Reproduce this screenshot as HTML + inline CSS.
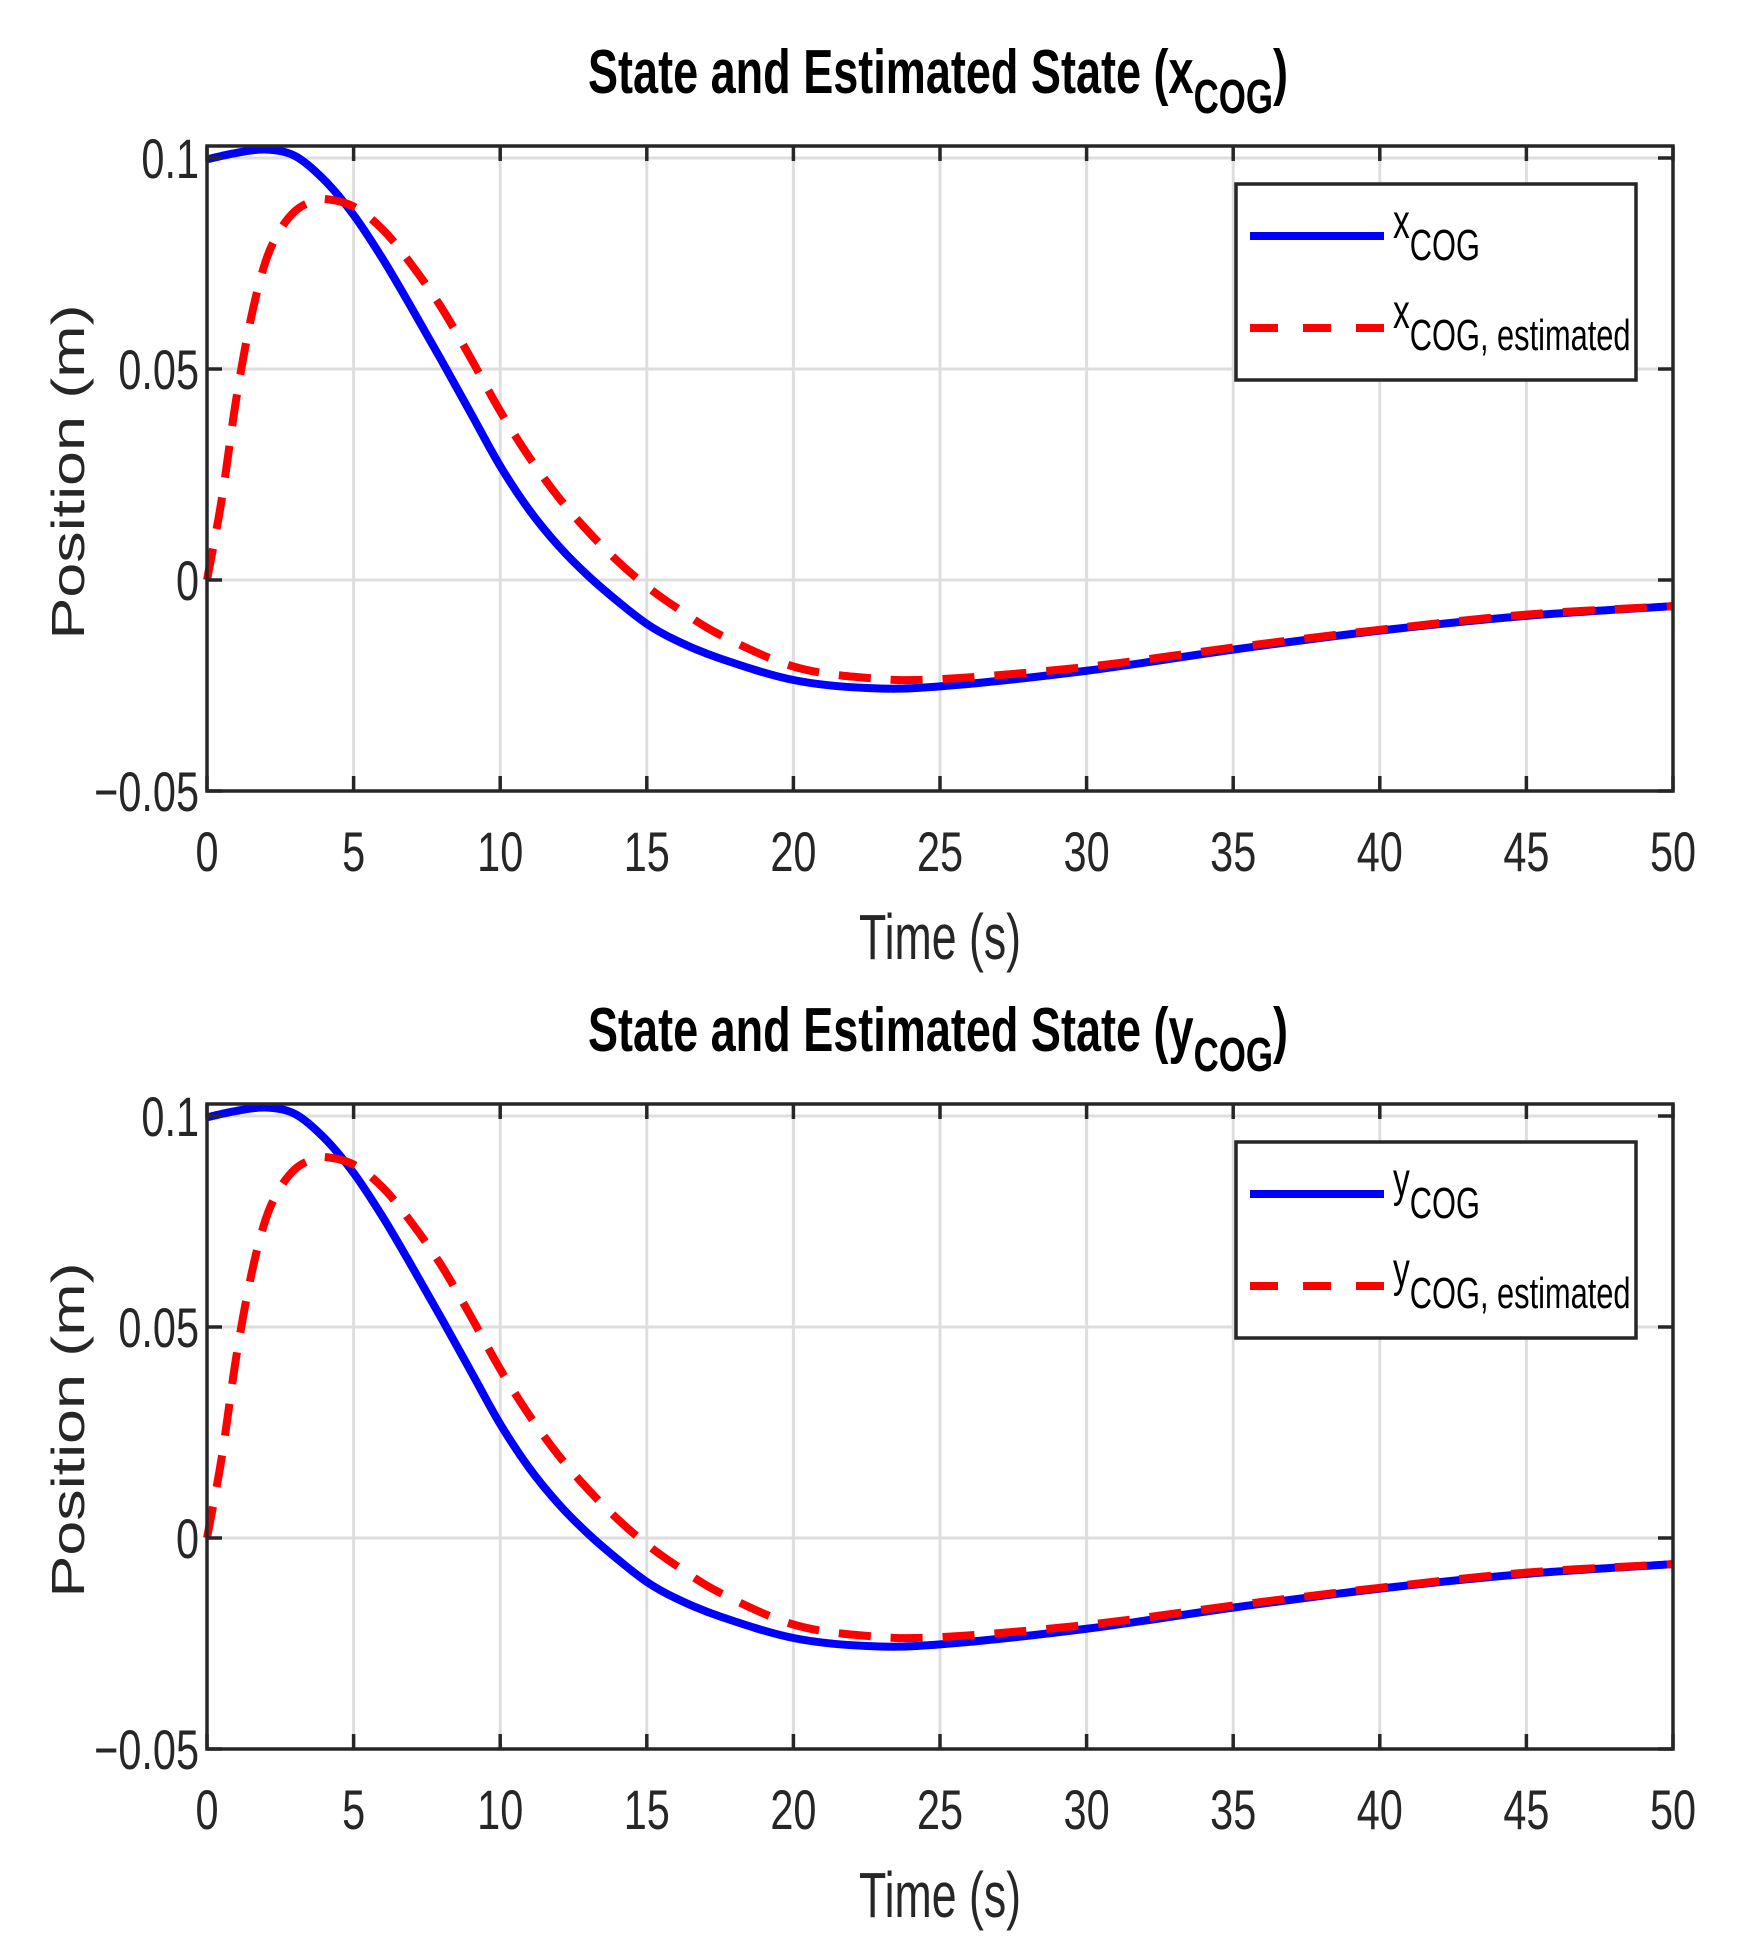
<!DOCTYPE html>
<html><head><meta charset="utf-8"><style>
html,body{margin:0;padding:0;background:#fff;}
svg{display:block;font-family:"Liberation Sans",Arial,sans-serif;}
</style></head><body>
<svg id="fig" width="1742" height="1954" viewBox="0 0 1742 1954" xmlns="http://www.w3.org/2000/svg"></svg>
<script>
const timeX = [0,1,2,3,4,5,6,7,8,9,10,11,12,13,14,15,16,17.5,20,22.5,25,30,35,40,45,50];
const stateX = [0.0997,0.1012,0.1020,0.1005,0.0948,0.0865,0.0760,0.0642,0.0520,0.0395,0.0270,0.0165,0.0080,0.0010,-0.0050,-0.0104,-0.0143,-0.0186,-0.0237,-0.0256,-0.0252,-0.0215,-0.0165,-0.012,-0.0085,-0.0062];
const timeE = [0,0.5,1,1.5,2,2.5,3,3.5,4,5,6,7,8,9,10,11,12,13,14,15,16,17.5,20,22.5,25,30,35,40,45,50];
const estX = [0,0.019,0.043,0.062,0.0755,0.0830,0.0874,0.0895,0.0903,0.0885,0.0830,0.0745,0.0645,0.0525,0.0400,0.0290,0.0195,0.0115,0.0045,-0.0015,-0.0065,-0.0130,-0.0205,-0.0232,-0.0235,-0.0206,-0.016,-0.0118,-0.0082,-0.0062];
const stateY = stateX.slice();
const estY = estX.slice();
const xTicks = [0,5,10,15,20,25,30,35,40,45,50];
const yTicks = [-0.05,0,0.05,0.1];
const yTickLabels = ["\u22120.05","0","0.05","0.1"];

const NS="http://www.w3.org/2000/svg";
const svg=document.getElementById('fig');
function el(tag,attrs,parent){const e=document.createElementNS(NS,tag);for(const k in attrs)e.setAttribute(k,attrs[k]);(parent||svg).appendChild(e);return e;}

function smoothPath(pts){
  let d=`M${pts[0][0]},${pts[0][1]}`;
  for(let i=0;i<pts.length-1;i++){
    const p0=pts[Math.max(0,i-1)],p1=pts[i],p2=pts[i+1],p3=pts[Math.min(pts.length-1,i+2)];
    const c1x=p1[0]+(p2[0]-p0[0])/6,c1y=p1[1]+(p2[1]-p0[1])/6;
    const c2x=p2[0]-(p3[0]-p1[0])/6,c2y=p2[1]-(p3[1]-p1[1])/6;
    d+=` C${c1x},${c1y} ${c2x},${c2y} ${p2[0]},${p2[1]}`;
  }
  return d;
}

function drawPanel(idx,top,varName,sx,sy,ex,ey){
  const L=207,R=1673,T=top,B=top+645;
  const y0=top+434, yPer=(B-y0)/0.05;
  const X=v=>L+(v-0)/(50)*(R-L);
  const Y=v=>y0-v*yPer;
  const g=el('g',{});
  
  
  xTicks.forEach(t=>{const l=el('line',{x1:X(t),x2:X(t),y1:T,y2:B,stroke:'#dedede','stroke-width':3},g);
    });
  yTicks.forEach(t=>{const l=el('line',{x1:L,x2:R,y1:Y(t),y2:Y(t),stroke:'#dedede','stroke-width':3},g);
    });
  const sPts=sx.map((t,i)=>[X(t),Y(sy[i])]);
  const ePts=ex.map((t,i)=>[X(t),Y(ey[i])]);
  const s=el('path',{d:smoothPath(sPts),fill:'none',stroke:'#0000ff','stroke-width':8,'stroke-linejoin':'round'},g);
  
  const e=el('path',{d:smoothPath(ePts),fill:'none',stroke:'#ff0000','stroke-width':8,'stroke-dasharray':'32 20'},g);
  
  const box=el('rect',{x:L,y:T,width:R-L,height:B-T,fill:'none',stroke:'#262626','stroke-width':3.5},g);
  
  xTicks.forEach(t=>{
    el('line',{x1:X(t),x2:X(t),y1:B,y2:B-15,stroke:'#262626','stroke-width':3.5},g);
    el('line',{x1:X(t),x2:X(t),y1:T,y2:T+15,stroke:'#262626','stroke-width':3.5},g);
    const tx=el('text',{x:X(t),y:B+80,'font-size':56,'text-anchor':'middle',fill:'#262626',transform:`translate(${X(t)},0) scale(0.74,1) translate(${-X(t)},0)`},g);
    tx.textContent=t;
  });
  yTicks.forEach((t,i)=>{
    el('line',{x1:L,x2:L+15,y1:Y(t),y2:Y(t),stroke:'#262626','stroke-width':3.5},g);
    el('line',{x1:R,x2:R-15,y1:Y(t),y2:Y(t),stroke:'#262626','stroke-width':3.5},g);
    const tx=el('text',{x:199,y:Y(t)+20,'font-size':56,'text-anchor':'end',fill:'#262626',transform:`translate(199,0) scale(0.74,1) translate(-199,0)`},g);
    tx.textContent=yTickLabels[i];
  });
  const xl=el('text',{x:940,y:top+813,'font-size':64,'text-anchor':'middle',fill:'#262626',textLength:162,lengthAdjust:'spacingAndGlyphs'},g);
  xl.textContent='Time (s)';
  const yl=el('text',{x:0,y:0,'font-size':46,'text-anchor':'middle',fill:'#262626',textLength:335,lengthAdjust:'spacingAndGlyphs',transform:`translate(84,${top+326}) rotate(-90)`},g);
  yl.textContent='Position (m)';
  const ti=el('text',{x:938,y:top-53,'font-size':62,'font-weight':'bold','text-anchor':'middle',fill:'#000',textLength:700,lengthAdjust:'spacingAndGlyphs'},g);
  
  const t1=el('tspan',{},ti);t1.textContent='State and Estimated State ('+varName;
  const t2=el('tspan',{dy:20,'font-size':48},ti);t2.textContent='COG';
  const t3=el('tspan',{dy:-20},ti);t3.textContent=')';
  const lg=el('g',{},g);
  el('rect',{x:1236,y:top+38,width:400,height:196,fill:'#fff',stroke:'#262626','stroke-width':3.5},lg);
  const le1=el('g',{},lg);
  el('line',{x1:1250,x2:1384,y1:top+90,y2:top+90,stroke:'#0000ff','stroke-width':8},le1);
  const a=el('text',{x:1393,y:top+92,'font-size':48,fill:'#000',transform:`translate(1393,0) scale(0.7,1) translate(-1393,0)`},le1);
  const a1=el('tspan',{},a);a1.textContent=varName;
  const a2=el('tspan',{dy:22,'font-size':44},a);a2.textContent='COG';
  const le2=el('g',{},lg);
  el('line',{x1:1250,x2:1384,y1:top+182,y2:top+182,stroke:'#ff0000','stroke-width':8,'stroke-dasharray':'28 25'},le2);
  const b=el('text',{x:1393,y:top+182,'font-size':48,fill:'#000',transform:`translate(1393,0) scale(0.7,1) translate(-1393,0)`},le2);
  const b1=el('tspan',{},b);b1.textContent=varName;
  const b2=el('tspan',{dy:22,'font-size':44},b);b2.textContent='COG, estimated';
}
drawPanel(0,146,'x',timeX,stateX,timeE,estX);
drawPanel(1,1104,'y',timeX,stateY,timeE,estY);
</script>
</body></html>
